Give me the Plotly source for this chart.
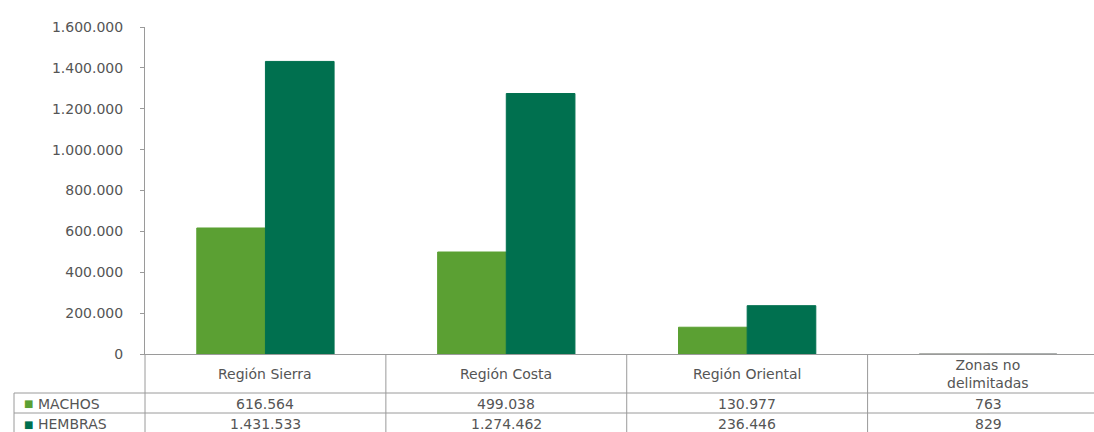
import plotly.graph_objects as go

categories = ["Región Sierra", "Región Costa", "Región Oriental", "Zonas no delimitadas"]
category_labels = ["Región Sierra", "Región Costa", "Región Oriental", "Zonas no<br>delimitadas"]
machos = [616564, 499038, 130977, 763]
hembras = [1431533, 1274462, 236446, 829]
series_names = ["MACHOS", "HEMBRAS"]
y_ticks = [0, 200000, 400000, 600000, 800000, 1000000, 1200000, 1400000, 1600000]

C_MACHOS = "#5ba033"
C_HEMBRAS = "#00704f"
TXT = "#555555"
LINE = "#9a9a9a"
FONT = "DejaVu Sans"
FS = 14

W, H = 1094, 432
ML, MR, MT, MB = 145, 0, 27, 78
PW = W - ML - MR
PH = H - MT - MB


def py(px):  # pixel y (from top) -> paper y
    return (H - MB - px) / PH


def pxx(px):  # pixel x -> paper x
    return (px - ML) / PW


def fmt(v):
    return f"{v:,}".replace(",", ".")


fig = go.Figure()
for name, vals, col in [("MACHOS", machos, C_MACHOS), ("HEMBRAS", hembras, C_HEMBRAS)]:
    fig.add_trace(go.Bar(
        x=categories, y=vals, name=name,
        marker=dict(color=col,
                    line=dict(width=1, color=[col, col, col, "#a8a8a8"])),
        hoverinfo="skip",
    ))

shapes = []
row_top = py(393)
row_mid = py(413)
bottom = py(432)
for yy in [row_top, row_mid]:
    shapes.append(dict(type="line", xref="paper", yref="paper",
                       x0=pxx(14), x1=1, y0=yy, y1=yy,
                       line=dict(color=LINE, width=1)))
shapes.append(dict(type="line", xref="paper", yref="paper",
                   x0=pxx(14), x1=pxx(14), y0=row_top, y1=bottom,
                   line=dict(color=LINE, width=1)))
shapes.append(dict(type="line", xref="paper", yref="paper",
                   x0=0, x1=0, y0=0, y1=bottom,
                   line=dict(color=LINE, width=1)))
for i in range(1, len(categories)):
    shapes.append(dict(type="line", xref="x", yref="paper",
                       x0=i - 0.5, x1=i - 0.5, y0=0, y1=bottom,
                       line=dict(color=LINE, width=1)))

annotations = []
for i, lab in enumerate(category_labels):
    annotations.append(dict(x=i, y=py(374), xref="x", yref="paper",
                            text=lab, showarrow=False,
                            font=dict(family=FONT, size=FS, color=TXT),
                            xanchor="center", yanchor="middle"))
    annotations.append(dict(x=i, y=py(403.5), xref="x", yref="paper",
                            text=fmt(machos[i]), showarrow=False,
                            font=dict(family=FONT, size=FS, color=TXT),
                            xanchor="center", yanchor="middle"))
    annotations.append(dict(x=i, y=py(424), xref="x", yref="paper",
                            text=fmt(hembras[i]), showarrow=False,
                            font=dict(family=FONT, size=FS, color=TXT),
                            xanchor="center", yanchor="middle"))

for name, col, yc in [(series_names[0], C_MACHOS, 403.5), (series_names[1], C_HEMBRAS, 424)]:
    annotations.append(dict(x=pxx(22), y=py(yc), xref="paper", yref="paper",
                            text="■", showarrow=False,
                            font=dict(family=FONT, size=10, color=col),
                            xanchor="left", yanchor="middle"))
    annotations.append(dict(x=pxx(36), y=py(yc), xref="paper", yref="paper",
                            text=name, showarrow=False,
                            font=dict(family=FONT, size=FS, color=TXT),
                            xanchor="left", yanchor="middle"))

fig.update_layout(
    width=W, height=H,
    margin=dict(l=ML, r=MR, t=MT, b=MB, pad=0),
    paper_bgcolor="white", plot_bgcolor="white",
    barmode="group", bargap=0.43, bargroupgap=0,
    showlegend=False,
    separators=",.",
    shapes=shapes,
    annotations=annotations,
    font=dict(family=FONT, size=FS, color=TXT),
    xaxis=dict(range=[-0.5, 3.44], showticklabels=False, ticks="",
               showline=True, linecolor=LINE, linewidth=1,
               showgrid=False, zeroline=False, fixedrange=True),
    yaxis=dict(range=[0, 1600000], tickvals=y_ticks,
               ticktext=[fmt(v) for v in y_ticks],
               ticks="outside", ticklen=4, tickcolor=LINE,
               showline=True, linecolor=LINE, linewidth=1,
               showgrid=False, zeroline=False,
               tickfont=dict(family=FONT, size=FS, color=TXT),
               ticklabelstandoff=14, fixedrange=True),
)

fig.write_html("out.html", config={"displayModeBar": False})
